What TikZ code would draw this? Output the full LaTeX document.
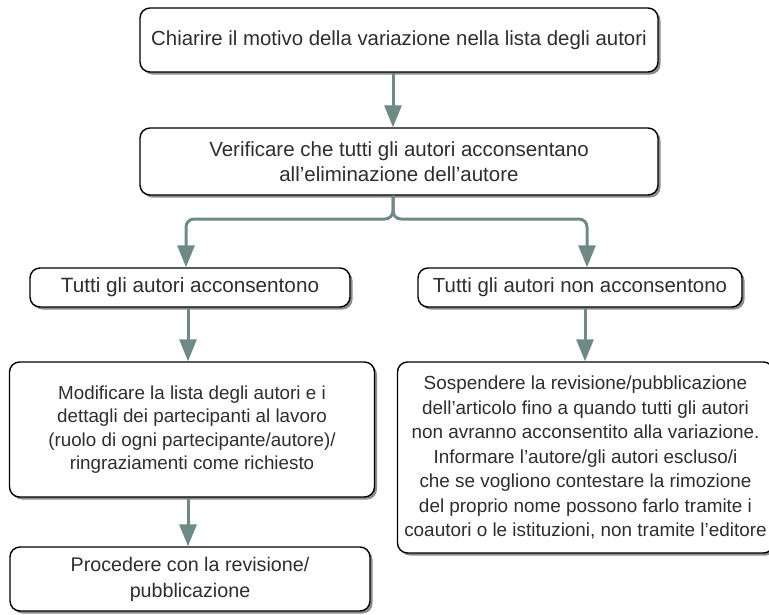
\documentclass[tikz,border=0pt]{standalone}
\usepackage{fontspec}
\setmainfont{Liberation Sans}
\usetikzlibrary{arrows.meta,shadows}
\definecolor{arrcol}{HTML}{6E8A85}
\definecolor{txtcol}{HTML}{2E2E2E}
\definecolor{shcol}{HTML}{8C8C8C}
\begin{document}
\begin{tikzpicture}[x=1pt,y=-1pt,
  box/.style={draw=black, line width=1.4pt, rounded corners=10pt, fill=white,
    align=center, text=txtcol, inner sep=0pt,
    drop shadow={shadow xshift=2.5pt, shadow yshift=-2.5pt, fill=shcol, opacity=1}},
  arr/.style={draw=arrcol, line width=3pt, -{Triangle[width=17pt,length=22pt]}, arrcol},
  arrb/.style={arr, rounded corners=8pt}]
\useasboundingbox (0,0) rectangle (769,614);
\node[box, font=\fontsize{20.4}{25}\selectfont, minimum width=518pt, minimum height=64pt] (b1) at (399,40)
  {Chiarire il motivo della variazione nella lista degli autori};
\node[box, font=\fontsize{20.5}{25}\selectfont, minimum width=518pt, minimum height=67pt] (b2) at (399,161.5)
  {Verificare che tutti gli autori acconsentano\\all’eliminazione dell’autore};
\node[box, font=\fontsize{20.7}{25}\selectfont, minimum width=320pt, minimum height=39pt] (b3) at (190,287.5)
  {Tutti gli autori acconsentono};
\node[box, font=\fontsize{20.4}{25}\selectfont, minimum width=324pt, minimum height=39pt] (b4) at (580,287.5)
  {Tutti gli autori non acconsentono};
\node[box, font=\fontsize{18.8}{23.3}\selectfont, minimum width=365pt, minimum height=135pt] (b5) at (192,429.5)
  {Modificare la lista degli autori e i\\dettagli dei partecipanti al lavoro\\(ruolo di ogni partecipante/autore)/\\ringraziamenti come richiesto};
\node[box, font=\fontsize{19.7}{26}\selectfont, minimum width=360pt, minimum height=64pt] (b6) at (190,579)
  {Procedere con la revisione/\\pubblicazione};
\node[box, font=\fontsize{18.9}{24.5}\selectfont, minimum width=376pt, minimum height=191pt] (b7) at (585.5,457.5)
  {Sospendere la revisione/pubblicazione\\dell’articolo fino a quando tutti gli autori\\non avranno acconsentito alla variazione.\\Informare l’autore/gli autori escluso/i\\che se vogliono contestare la rimozione\\del proprio nome possono farlo tramite i\\coautori o le istituzioni, non tramite l’editore};
\coordinate (j) at (393,219);
\draw[arr] ([xshift=-6pt]b1.south) -- ([xshift=-6pt]b2.north);
\draw[arrb] ([xshift=-6pt]b2.south) -- (j) -| ([xshift=-4pt]b3.north);
\draw[arrb] ([xshift=-6pt]b2.south) -- (j) -| ([xshift=7pt]b4.north);
\draw[arr] ([xshift=-2pt]b3.south) -- ([xshift=-4pt]b5.north);
\draw[arr] ([xshift=5pt]b4.south) -- ([xshift=-0.5pt]b7.north);
\draw[arr] ([xshift=-4pt]b5.south) -- ([xshift=-2pt]b6.north);
\end{tikzpicture}
\end{document}
